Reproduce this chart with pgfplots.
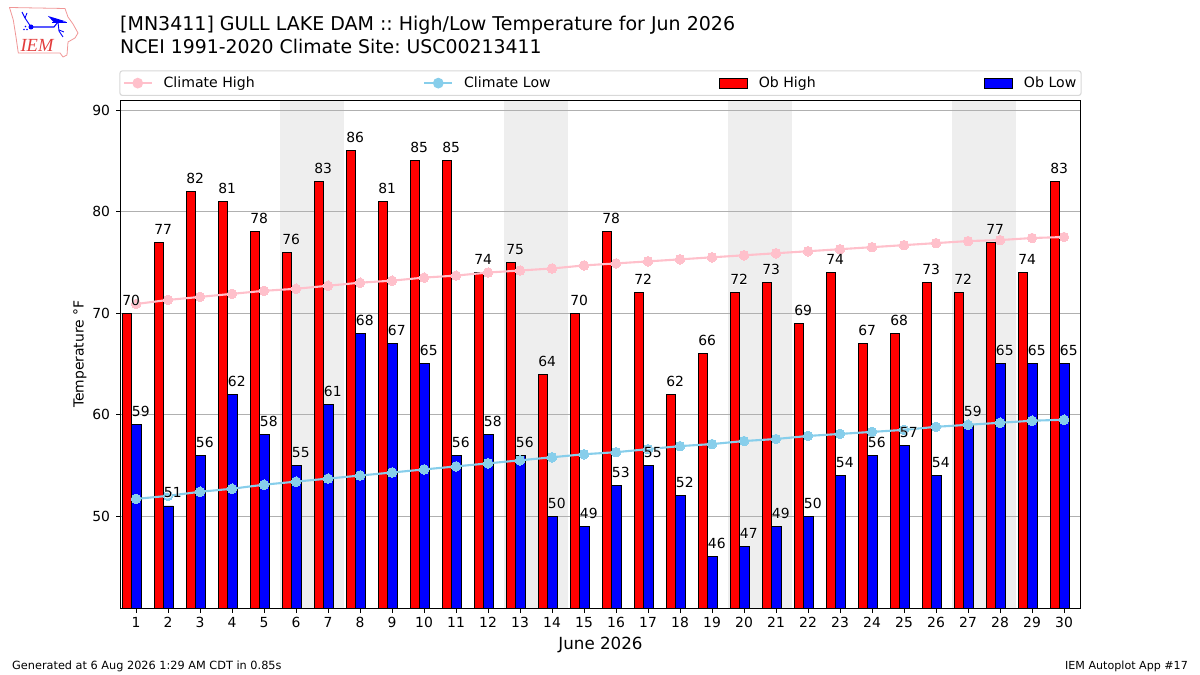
\documentclass[border=0pt]{standalone}
\usepackage{fontspec}
\usepackage{pgfplots}
\usepackage{pgfplotstable}
\pgfplotsset{compat=1.18}
\setmainfont{DejaVu Sans}
\newfontfamily\halofont[FakeBold=2.5]{DejaVu Sans}
\definecolor{climhigh}{RGB}{255,192,203}
\definecolor{climlow}{RGB}{135,206,235}
\definecolor{wkend}{RGB}{238,238,238}
\definecolor{gridc}{RGB}{176,176,176}
\definecolor{legc}{RGB}{216,216,216}
\definecolor{logored}{RGB}{226,60,60}
\definecolor{logopink}{RGB}{240,150,150}
\pgfplotsset{layers/chart/.define layer set={axis background,pre main,main,axis grid,axis ticks,axis lines,axis tick labels,axis descriptions,axis foreground}{}}
\pgfplotsset{
  halolabels/.style={forget plot,on layer=axis foreground,only marks,mark=none,
    nodes near coords,
    every node near coord/.style={anchor=base,inner sep=0pt,yshift=8pt,text=white,
      font=\halofont\fontsize{13.9}{16}\selectfont}},
  textlabels/.style={forget plot,on layer=axis foreground,only marks,mark=none,
    nodes near coords,
    every node near coord/.style={anchor=base,inner sep=0pt,yshift=8pt,text=black,
      font=\fontsize{13.9}{16}\selectfont}},
}
\pgfplotstableread{
d high low chigh clow
1 70 59 70.9 51.7
2 77 51 71.3 52.0
3 82 56 71.6 52.4
4 81 62 71.9 52.7
5 78 58 72.2 53.1
6 76 55 72.4 53.4
7 83 61 72.7 53.7
8 86 68 73.0 54.0
9 81 67 73.2 54.3
10 85 65 73.5 54.6
11 85 56 73.7 54.9
12 74 58 74.0 55.2
13 75 56 74.2 55.5
14 64 50 74.4 55.8
15 70 49 74.7 56.1
16 78 53 74.9 56.3
17 72 55 75.1 56.6
18 62 52 75.3 56.9
19 66 46 75.5 57.1
20 72 47 75.7 57.4
21 73 49 75.9 57.6
22 69 50 76.1 57.9
23 74 54 76.3 58.1
24 67 56 76.5 58.3
25 68 57 76.7 58.5
26 73 54 76.9 58.8
27 72 59 77.1 59.0
28 77 65 77.2 59.2
29 74 65 77.4 59.4
30 83 65 77.5 59.5
}\datatable
\begin{document}
\frenchspacing
\begin{tikzpicture}
\begin{axis}[
  set layers=chart,
  at={(0pt,0pt)},anchor=south west,
  scale only axis,width=959pt,height=507.5pt,
  xmin=0.53,xmax=30.5,ymin=40.95,ymax=90.95,
  xtick={1,...,30},ytick={50,60,70,80,90},
  tick align=outside,
  major tick length=4.9pt,
  every tick/.style={black,line width=1pt},
  axis line style={black,line width=1pt},
  xtick pos=bottom,ytick pos=left,
  ymajorgrids,
  grid style={gridc,line width=1.1pt},
  /pgf/number format/assume math mode=true,
  tick label style={font=\fontsize{13.9}{16}\selectfont},
  xticklabel shift=1pt,
  yticklabel shift=2.5pt,
  xlabel={June 2026},
  xlabel style={font=\fontsize{16.7}{19}\selectfont},
  xlabel shift=2pt,
  ylabel={Temperature °F},
  ylabel style={font=\fontsize{13.9}{16}\selectfont},
  ylabel shift=-1pt,
  legend columns=4,
  legend cell align=left,
  legend style={
    at={(0.5,1)},anchor=south,yshift=4.5pt,
    font=\fontsize{14.1}{16}\selectfont,
    draw=legc,line width=1.1pt,rounded corners=2.5pt,
    inner xsep=2.8pt,inner ysep=4.2pt,
    /tikz/every odd column/.append style={column sep=8.8pt},
    /tikz/column 2/.style={column sep=166.5pt},
    /tikz/column 4/.style={column sep=166.5pt},
    /tikz/column 6/.style={column sep=166.5pt},
  },
]
\begin{pgfonlayer}{axis background}
\fill[wkend] (axis cs:5.5,40.95) rectangle (axis cs:7.5,90.95);
\fill[wkend] (axis cs:12.5,40.95) rectangle (axis cs:14.5,90.95);
\fill[wkend] (axis cs:19.5,40.95) rectangle (axis cs:21.5,90.95);
\fill[wkend] (axis cs:26.5,40.95) rectangle (axis cs:28.5,90.95);
\end{pgfonlayer}

\addlegendimage{legend image code/.code={\draw[climhigh,line width=2.1pt,sharp corners] (0pt,0pt)--(28pt,0pt);\fill[climhigh,sharp corners] (14pt,0pt) circle (4.8pt);}}
\addlegendentry{Climate High}
\addlegendimage{legend image code/.code={\draw[climlow,line width=2.1pt,sharp corners] (0pt,0pt)--(28pt,0pt);\fill[climlow,sharp corners] (14pt,0pt) circle (4.8pt);}}
\addlegendentry{Climate Low}
\addlegendimage{legend image code/.code={\draw[sharp corners,fill=red,draw=black,line width=0.9pt] (0pt,-5pt) rectangle (28pt,5pt);}}
\addlegendentry{Ob High}
\addlegendimage{legend image code/.code={\draw[sharp corners,fill=blue,draw=black,line width=0.9pt] (0pt,-5pt) rectangle (28pt,5pt);}}
\addlegendentry{Ob Low}

\addplot[forget plot,ybar,bar width=9.6pt,bar shift=-9pt,fill=red,draw=black,line width=0.9pt] table[x=d,y=high] {\datatable};
\addplot[forget plot,ybar,bar width=9.6pt,bar shift=0.6pt,fill=blue,draw=black,line width=0.9pt] table[x=d,y=low] {\datatable};
\addplot[forget plot,climhigh,line width=2.1pt,mark=*,mark size=4.8pt,mark options={fill=climhigh,draw=climhigh,line width=0pt}] table[x=d,y=chigh] {\datatable};
\addplot[forget plot,climlow,line width=2.1pt,mark=*,mark size=4.8pt,mark options={fill=climlow,draw=climlow,line width=0pt}] table[x=d,y=clow] {\datatable};

\addplot[halolabels] table[x expr=\thisrow{d}-0.15,y=high] {\datatable};
\addplot[halolabels] table[x expr=\thisrow{d}+0.15,y=low] {\datatable};
\addplot[textlabels] table[x expr=\thisrow{d}-0.15,y=high] {\datatable};
\addplot[textlabels] table[x expr=\thisrow{d}+0.15,y=low] {\datatable};
\end{axis}
\useasboundingbox (-121pt,-67pt) rectangle (1079pt,608pt);

\node[anchor=base west,inner sep=0pt,font=\fontsize{19}{21}\selectfont] at (-1pt,577pt) {[MN3411] GULL LAKE DAM :: High/Low Temperature for Jun 2026};
\node[anchor=base west,inner sep=0pt,font=\fontsize{18.85}{21}\selectfont] at (-1pt,554pt) {NCEI 1991-2020 Climate Site: USC00213411};
\node[anchor=base west,inner sep=0pt,font=\fontsize{11.3}{13}\selectfont] at (-109pt,-61pt) {Generated at 6 Aug 2026 1:29 AM CDT in 0.85s};
\node[anchor=base east,inner sep=0pt,font=\fontsize{11.1}{13}\selectfont] at (1067pt,-61pt) {IEM Autoplot App \#17};

\begin{scope}[shift={(-121pt,608pt)},x=1pt,y=-1pt]
\draw[logopink,line width=0.8pt,line join=round]
  (9.5,7.5)--(65,8.5)--(68,17)--(73,24)--(78,33)--(75,38)--(68,42)--(67,55)--(63,57)--(60,53)--(18.3,53)--(16,37)--(13.3,20)--cycle;
\node[text=logored,inner sep=0pt] at (37,45) {\fontspec{Liberation Serif}\fontsize{18.5}{20}\selectfont\itshape IEM};
\draw[blue,line width=1.1pt] (31,27)--(54,27)--(58,22);
\fill[blue] (31,27) circle (2.5);
\draw[blue,line width=0.9pt] (31,27)--(25,18)--(22,12);
\draw[blue,line width=0.9pt] (25,18)--(27,13);
\fill[blue] (48,16)--(58,19)--(66,21.5)--(54,22.5)--cycle;
\draw[blue,line width=0.9pt] (52,22)--(67,22);
\draw[blue,line width=0.9pt] (58,22)--(59,31)--(63,37);
\draw[blue,line width=0.9pt] (59,30)--(64,32);
\fill[blue] (24,29.5) circle (0.9) (27,29.5) circle (0.9) (25.5,26.5) circle (0.9);
\end{scope}
\end{tikzpicture}
\end{document}
